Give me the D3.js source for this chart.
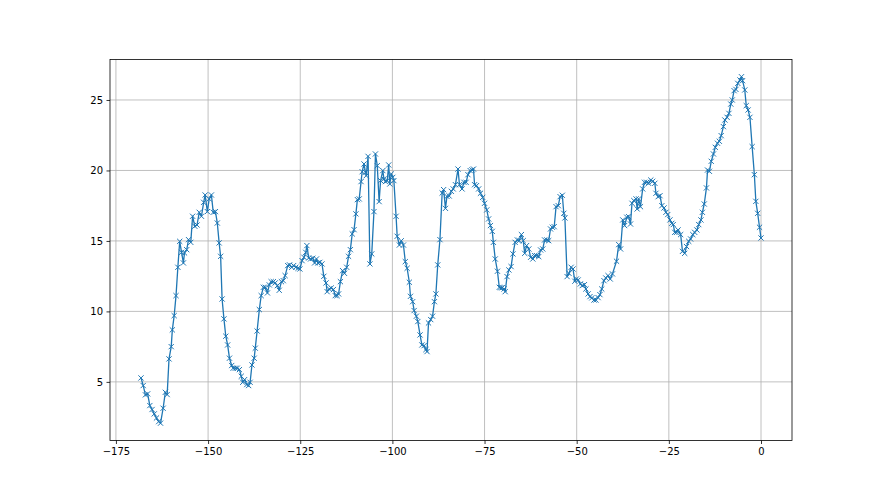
<!DOCTYPE html>
<html lang="en">
<head>
<meta charset="UTF-8">
<title>Series</title>
<script src="https://d3js.org/d3.v7.min.js"></script>
<style>
  body { margin: 0; background: #fff; }
  svg text { font-family: "DejaVu Sans", sans-serif; font-size: 10px; fill: #000; }
</style>
</head>
<body>
<div id="chart"></div>
<script>
// values (x position, y value)
const xs = [
  -168.2, -167.6, -167.0, -166.4, -165.8, -165.2, -164.6, -164.0, -163.4, -162.9,
  -162.2, -161.6, -161.1, -160.6, -160.0, -159.7, -159.2, -158.7, -158.2, -157.7,
  -157.2, -156.7, -156.4, -155.8, -155.3, -154.7, -154.2, -153.6, -153.0, -152.4,
  -151.8, -151.2, -150.8, -150.2, -149.7, -149.1, -148.6, -148.0, -147.5, -147.0,
  -146.6, -146.2, -145.7, -145.2, -144.7, -144.2, -143.6, -143.2, -142.6, -142.1,
  -141.5, -141.0, -140.6, -140.1, -139.5, -139.0, -138.6, -138.1, -137.5, -137.2,
  -136.7, -136.1, -135.6, -135.0, -134.5, -133.9, -133.4, -132.9, -132.3, -131.8,
  -131.2, -130.7, -130.1, -129.6, -129.1, -128.4, -127.9, -127.3, -126.8,
  -126.2, -125.6, -125.1, -124.5, -124.0, -123.5, -123.2, -122.7, -122.2, -121.6,
  -121.1, -120.6, -120.2, -119.7, -119.1, -118.6, -118.0, -117.7, -117.1, -116.6,
  -116.0, -115.5, -115.0, -114.6, -114.1, -113.5, -113.0, -112.4, -111.9, -111.4,
  -110.9, -110.4, -109.9, -109.5, -109.0, -108.5, -108.2, -107.7, -107.3, -107.1,
  -106.6, -106.1, -105.6, -105.0, -104.6, -104.1, -103.6, -103.2, -102.6, -102.3,
  -101.9, -101.4, -101.0, -100.7, -100.3, -99.9, -99.6, -99.0, -98.7, -98.1,
  -97.6, -97.0, -96.5, -96.0, -95.4, -95.1, -94.5, -94.1, -93.5, -93.1,
  -92.5, -92.0, -91.4, -90.9, -90.6, -90.2, -89.6, -89.1, -88.6, -88.2,
  -87.7, -87.1, -86.5, -86.1, -85.6, -85.2, -84.6, -84.0,
  -83.5, -82.9, -82.2, -81.8, -81.1, -80.6, -80.0, -79.5, -78.9, -78.4,
  -78.0, -77.7, -77.2, -76.6, -76.1, -75.5, -75.0, -74.4, -73.9, -73.4,
  -72.9, -72.6, -72.1, -71.5, -71.0, -70.6, -70.2, -69.7, -69.4, -68.9,
  -68.4, -67.8, -67.3, -66.7, -66.1, -65.6, -65.0, -64.5, -64.1, -63.6,
  -63.0, -62.5, -61.9, -61.4, -60.9, -60.3, -59.8, -59.2, -58.7, -58.1,
  -57.6, -57.1, -56.6, -56.1, -55.6, -55.0, -54.5, -53.9, -53.5, -53.2,
  -52.6, -52.1, -51.5, -51.0, -50.5, -50.1, -49.6, -49.0, -48.5, -47.9,
  -47.5, -46.9, -46.4, -45.9, -45.3, -44.8, -44.2, -43.7, -43.2, -42.6,
  -42.1, -41.5, -40.9, -40.3, -39.2, -38.6, -38.1, -37.5, -37.0, -36.4,
  -35.9, -35.4, -35.0, -34.5, -33.9, -33.6, -33.2, -32.7, -32.1, -31.6,
  -31.0, -30.5, -29.9, -29.4, -28.8, -28.5, -27.9, -27.4, -26.9, -26.3,
  -25.8, -25.3, -24.7, -24.2, -23.8, -23.4, -22.9, -22.5, -21.8, -21.3,
  -20.7, -20.2, -19.6, -19.1, -18.5, -18.0, -17.4, -16.9, -16.3, -15.9,
  -15.4, -14.8, -14.5, -14.0, -13.5, -12.9, -12.4, -11.8, -11.3, -10.8,
  -10.2, -9.8, -9.2, -8.7, -8.2, -7.8, -7.3, -6.8, -6.3, -5.7,
  -5.3, -5.0, -4.4, -4.0, -3.5, -3.0, -2.4, -1.8, -1.4, -0.9,
  -0.4, 0.0
];
const ys = [
  5.28, 4.74, 4.08, 4.15, 3.32, 3.04, 2.73, 2.44, 2.18, 2.07,
  3.13, 4.26, 4.10, 6.63, 7.50, 8.69, 9.70, 11.12, 13.13, 14.97,
  14.19, 13.44, 14.15, 14.38, 15.09, 14.90, 16.75, 16.04, 16.13, 17.03,
  16.75, 17.74, 18.26, 17.08, 17.98, 18.26, 17.03, 17.08, 16.27, 14.86,
  13.91, 10.88, 9.47, 8.24, 7.62, 6.68, 6.16, 5.97, 5.97, 5.97,
  5.87, 5.40, 4.97, 5.16, 4.81, 4.74, 4.97, 6.20, 6.68, 7.39,
  8.61, 10.13, 11.12, 11.71, 11.71, 11.31, 11.88, 12.11, 12.11, 12.02,
  11.83, 11.50, 12.11, 12.18, 12.54, 13.25, 13.30, 13.13, 13.25,
  13.13, 13.06, 13.01, 13.60, 13.84, 14.19, 14.67, 13.79, 13.72, 13.77,
  13.44, 13.72, 13.44, 13.48, 13.37, 12.49, 12.02, 11.40, 11.59, 11.66,
  11.55, 11.12, 11.12, 11.24, 12.11, 12.89, 12.70, 13.13, 13.91, 14.38,
  15.50, 15.80, 16.92, 17.93, 17.98, 19.21, 19.91, 20.46, 19.87, 19.63,
  21.00, 13.37, 14.08, 17.08, 21.17, 20.34, 17.79, 19.28, 19.99, 19.40,
  19.21, 19.28, 20.39, 19.04, 19.75, 19.51, 19.28, 16.75, 15.33, 14.71,
  15.01, 14.71, 13.53, 13.06, 12.07, 11.07, 10.69, 10.06, 9.66, 9.28,
  8.33, 7.62, 7.57, 7.29, 7.15, 9.18, 9.42, 9.66, 10.69, 11.24,
  13.30, 15.09, 18.40, 18.64, 17.31, 18.16, 18.19, 18.52,
  18.69, 18.99, 20.10, 18.99, 18.69, 19.16, 19.16, 19.70, 19.99, 20.04,
  20.10, 18.99, 18.92, 18.69, 18.38, 18.09, 17.67, 17.20, 16.56, 16.09,
  15.68, 14.90, 13.72, 12.85, 11.71, 11.68, 11.68, 11.59, 11.40, 12.47,
  12.94, 13.18, 14.08, 14.90, 15.07, 15.02, 15.45, 15.02, 14.12, 14.67,
  14.43, 13.84, 13.72, 13.96, 13.96, 13.89, 14.36, 14.43, 15.07, 15.07,
  15.02, 15.85, 15.97, 16.01, 17.43, 17.50, 18.14, 18.24, 16.96, 16.63,
  12.47, 12.70, 13.13, 13.01, 12.14, 12.30, 12.23, 11.95, 11.83, 11.90,
  11.59, 11.24, 11.05, 10.96, 10.81, 10.81, 10.98, 11.19, 11.59, 12.18,
  12.37, 12.54, 12.30, 12.66, 13.56, 14.74, 14.43, 16.49, 16.09, 16.68,
  16.72, 16.20, 17.67, 17.86, 17.98, 17.27, 17.98, 17.43, 18.69, 19.16,
  19.16, 19.09, 19.32, 19.23, 19.09, 18.38, 18.14, 18.21, 17.50, 17.34,
  17.03, 16.87, 16.49, 16.25, 16.16, 15.61, 15.61, 15.78, 15.45, 14.26,
  14.12, 14.60, 14.97, 15.14, 15.45, 15.61, 15.78, 16.16, 16.49, 17.03,
  17.62, 18.76, 20.03, 19.94, 20.65, 21.17, 21.64, 21.93, 22.07, 22.47,
  23.11, 23.58, 23.77, 24.05, 24.71, 25.00, 25.66, 25.75, 26.18, 26.42,
  26.65, 26.37, 25.71, 24.60, 24.29, 23.77, 21.69, 19.70, 17.81, 16.96,
  15.97, 15.21
];
const xTicks = [-175, -150, -125, -100, -75, -50, -25, 0];
const yTicks = [5, 10, 15, 20, 25];

const W = 880, H = 495;
const margin = {top: 59.4, right: 88, bottom: 54.5, left: 110};
const iw = W - margin.left - margin.right,
      ih = H - margin.top - margin.bottom;

const data = xs.map(function(x, i) { return [x, ys[i]]; });

// matplotlib style 5% padding
const xMin = d3.min(xs), xMax = d3.max(xs);
const yMin = d3.min(ys), yMax = d3.max(ys);
const xPad = (xMax - xMin) * 0.05, yPad = (yMax - yMin) * 0.05;

const x = d3.scaleLinear().domain([xMin - xPad, xMax + xPad]).range([0, iw]);
const y = d3.scaleLinear().domain([yMin - yPad, yMax + yPad]).range([ih, 0]);

const svg = d3.select("#chart").append("svg")
    .attr("width", W)
    .attr("height", H);

const g = svg.append("g")
    .attr("transform", "translate(" + margin.left + "," + margin.top + ")");

const fmt = function(d) { return d < 0 ? "\u2212" + Math.abs(d) : String(d); };

// grid
g.append("g").selectAll("line")
  .data(xTicks).enter().append("line")
    .attr("x1", function(d) { return x(d); })
    .attr("x2", function(d) { return x(d); })
    .attr("y1", 0).attr("y2", ih)
    .attr("stroke", "#b0b0b0").attr("stroke-width", 0.8);
g.append("g").selectAll("line")
  .data(yTicks).enter().append("line")
    .attr("y1", function(d) { return y(d); })
    .attr("y2", function(d) { return y(d); })
    .attr("x1", 0).attr("x2", iw)
    .attr("stroke", "#b0b0b0").attr("stroke-width", 0.8);

// series line
g.append("path")
    .datum(data)
    .attr("fill", "none")
    .attr("stroke", "#1f77b4")
    .attr("stroke-width", 1.3)
    .attr("stroke-linejoin", "round")
    .attr("d", d3.line().x(function(d) { return x(d[0]); }).y(function(d) { return y(d[1]); }));

// x markers
const ms = 2.6;
g.append("g").selectAll("path")
  .data(data).enter().append("path")
    .attr("transform", function(d) { return "translate(" + x(d[0]) + "," + y(d[1]) + ")"; })
    .attr("d", "M" + (-ms) + "," + (-ms) + "L" + ms + "," + ms + "M" + (-ms) + "," + ms + "L" + ms + "," + (-ms))
    .attr("stroke", "#1f77b4")
    .attr("stroke-width", 1)
    .attr("fill", "none");

// axes
const xAxis = g.append("g")
    .attr("transform", "translate(0," + ih + ")")
    .call(d3.axisBottom(x).tickValues(xTicks).tickFormat(fmt).tickSizeOuter(0).tickSize(3.5).tickPadding(3.5));
const yAxis = g.append("g")
    .call(d3.axisLeft(y).tickValues(yTicks).tickFormat(fmt).tickSizeOuter(0).tickSize(3.5).tickPadding(3.5));
[xAxis, yAxis].forEach(function(a) {
  a.select(".domain").remove();
  a.selectAll(".tick line").attr("stroke", "#000").attr("stroke-width", 0.8);
  a.selectAll("text").attr("font-family", null).attr("font-size", null);
});

// spines
g.append("rect")
    .attr("x", 0).attr("y", 0)
    .attr("width", iw).attr("height", ih)
    .attr("fill", "none")
    .attr("stroke", "#000")
    .attr("stroke-width", 0.8);
</script>
</body>
</html>
